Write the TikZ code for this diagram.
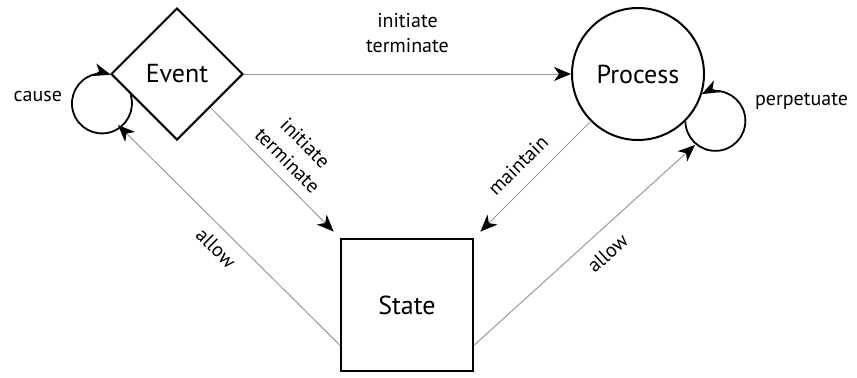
\documentclass[tikz,border=0pt]{standalone}
\usepackage{fontspec}
\setmainfont{PT Sans}
\usetikzlibrary{shapes.geometric, arrows.meta, positioning}

\tikzset{
  thing/.style={draw, line width=1pt, inner sep=0pt, font=\fontsize{13}{15}\selectfont},
  rel/.style={draw=gray!80, line width=0.5pt, -{Stealth[length=8.5pt, width=7pt, inset=2.5pt, color=black]}},
  selfloop/.style={draw, line width=0.9pt, -{Stealth[length=8.5pt, width=6.5pt, inset=2.5pt]}},
  lbl/.style={font=\fontsize{10}{12.5}\selectfont, align=center}
}

\begin{document}
\begin{tikzpicture}[x=0.5pt, y=0.5pt]
 \useasboundingbox (0,0) rectangle (857,377);
 % the three kinds of thing
 \node (event) [thing, diamond, minimum width=66pt, minimum height=66pt] at (177,303) {Event};
 \node (process) [thing, circle, minimum size=66pt] at (638,303) {Process};
 \node (state) [thing, rectangle, minimum size=66pt] at (407,72) {State};
 \coordinate (causeend) at (118,252);
 \coordinate (perpend) at (695,232);
 % relations
 \draw[rel] (event.east) -- node (evproc) [lbl, midway, above=7pt] {initiate\\terminate} (process.west);
 \draw[rel, shorten >=4.5pt] (event.south east) -- node (evstate) [lbl, midway, sloped, above=1.5pt] {initiate\\terminate} (state.north west);
 \draw[rel, shorten >=4.5pt] (process.south west) -- node (prstate) [lbl, midway, sloped, above=3pt] {maintain} (state.north east);
 \draw[rel] (state.211) -- node (allowev) [lbl, midway, sloped, below=2pt] {allow} (causeend);
 \draw[rel] (state.-31) -- node (allowpr) [lbl, pos=0.54, sloped, below=3.5pt] {allow} (perpend);
 % self loops
 \draw[selfloop] (event.204) arc[start angle=17, end angle=-287, radius=15pt];
 \draw[selfloop] (process.-45) arc[start angle=181, end angle=477, radius=15pt];
 \node (causelbl) [lbl, anchor=east] at (69,281) {cause};
 \node (perplbl) [lbl, anchor=west] at (748,276) {perpetuate};
\end{tikzpicture}
\end{document}
